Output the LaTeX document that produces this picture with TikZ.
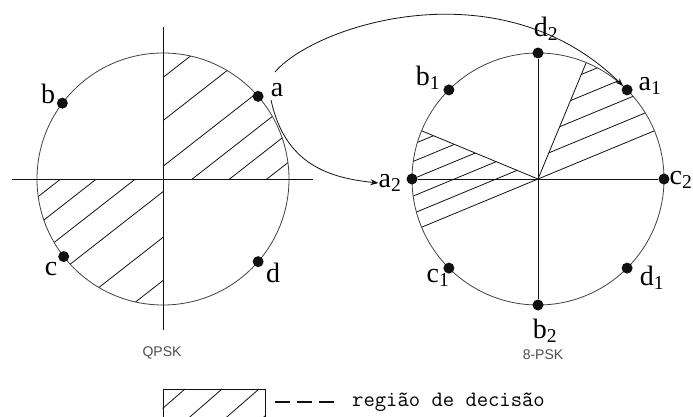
\documentclass[tikz,border=0pt]{standalone}
\usepackage{fontspec}
\usepackage{tikz}
\usetikzlibrary{arrows.meta, positioning, calc}
\newfontfamily\lblfont{Liberation Serif}
\newfontfamily\capfont{Liberation Sans}
\definecolor{ink}{HTML}{111111}

\begin{document}
\begin{tikzpicture}[
  x=1pt, y=1pt,
  rim/.style={draw=ink!80, line width=0.8pt},
  axis/.style={draw=ink, line width=1pt},
  hatch/.style={draw=ink, line width=0.8pt},
  pt/.style={circle, fill=ink, inner sep=0pt, minimum size=11pt},
  lbl/.style={inner sep=0pt, font=\lblfont\fontsize{28}{28}\selectfont},
  title/.style={inner sep=0pt, font=\capfont\fontsize{14}{14}\selectfont, text=ink!75},
  arrow/.style={-{Stealth[length=8pt, width=6pt]}, line width=0.8pt, ink},
  legdash/.style={ink, line width=2pt, dash pattern=on 15pt off 7pt}
]
  \clip (0,0) rectangle (693,416);
  \coordinate (L) at (163,237);
  \coordinate (R) at (538,237);

  % QPSK
  \begin{scope}
    \clip (L) circle (126);
    \clip (L) rectangle ++(130,130);
    \foreach \o in {80,46,10,-18,-41,-64}
      \draw[hatch] ($(L)+(128:\o)+(218:200)$) -- ++(38:400);
  \end{scope}
  \begin{scope}
    \clip (L) circle (126);
    \clip (L) rectangle ++(-130,-130);
    \foreach \o in {63,41,17,-10,-46,-80}
      \draw[hatch] ($(L)+(128:\o)+(218:200)$) -- ++(38:400);
  \end{scope}
  \draw[rim] (L) circle (126);
  \draw[axis] ($(L)+(-151,0)$) -- ($(L)+(150,0)$);
  \draw[axis] ($(L)+(0,152)$) -- ($(L)+(0,-151)$);

  \node[pt] (a) at ($(L)+(41:126)$) {};
  \node[pt] (b) at ($(L)+(143:126)$) {};
  \node[pt] (c) at ($(L)+(218:126)$) {};
  \node[pt] (d) at ($(L)+(-41:126)$) {};
  \node[lbl] (la) at (277,326) {a};
  \node[lbl] (lb) at (48,322) {b};
  \node[lbl] (lc) at (51,147) {c};
  \node[lbl] (ld) at (273,143) {d};
  \node[title] (qpsk) at (162,63) {QPSK};

  % 8-PSK
  \begin{scope}
    \clip (R) -- ($(R)+(22.5:140)$) -- ($(R)+(67.5:140)$) -- cycle;
    \clip (R) circle (126);
    \foreach \o in {20,40,60,80}
      \draw[hatch] ($(R)+(112.5:\o)+(202.5:200)$) -- ++(22.5:400);
  \end{scope}
  \begin{scope}
    \clip (R) -- ($(R)+(157.5:140)$) -- ($(R)+(202.5:140)$) -- cycle;
    \clip (R) circle (126);
    \foreach \o in {16,32,48,64,80}
      \draw[hatch] ($(R)+(112.5:\o)+(202.5:200)$) -- ++(22.5:400);
  \end{scope}
  \foreach \t in {22.5,67.5,157.5,202.5}
    \draw[hatch] (R) -- ($(R)+(\t:126)$);
  \draw[rim] (R) circle (126);

  \node[pt] (c2) at ($(R)+(0:126)$) {};
  \node[pt] (a1) at ($(R)+(45:126)$) {};
  \node[pt] (d2) at ($(R)+(90:126)$) {};
  \node[pt] (b1) at ($(R)+(135:126)$) {};
  \node[pt] (a2) at ($(R)+(180:126)$) {};
  \node[pt] (c1) at ($(R)+(225:126)$) {};
  \node[pt] (b2) at ($(R)+(270:126)$) {};
  \node[pt] (d1) at ($(R)+(315:126)$) {};
  \draw[axis] (a2) -- (c2);
  \draw[axis] (d2) -- (b2);

  \node[lbl] (la1) at (650,330) {a\textsubscript{1}};
  \node[lbl] (lb1) at (428,338) {b\textsubscript{1}};
  \node[lbl] (lc1) at (438,138) {c\textsubscript{1}};
  \node[lbl] (ld1) at (652,138) {d\textsubscript{1}};
  \node[lbl] (la2) at (390,233) {a\textsubscript{2}};
  \node[lbl] (lb2) at (545,85) {b\textsubscript{2}};
  \node[lbl] (lc2) at (681,236) {c\textsubscript{2}};
  \node[lbl] (ld2) at (546,387) {d\textsubscript{2}};
  \node[title] (psk) at (543,61) {8-PSK};

  \coordinate (up0) at (275,344);
  \coordinate (lo0) at (271,316);
  \draw[arrow] (up0) .. controls (315,391) and (500,451) .. (a1);
  \draw[arrow] (lo0) .. controls (285,251) and (330,238) .. (la2.west);

  % legenda
  \node[draw=ink, line width=0.8pt, minimum width=102pt, minimum height=32pt, inner sep=0pt] (legbox) at (214,11) {};
  \begin{scope}
    \clip (legbox.south west) rectangle (legbox.north east);
    \foreach \x in {185,222,259,296}
      \draw[hatch] (\x,27) -- ++(221:80);
  \end{scope}
  \node[anchor=west, inner sep=0pt, font=\ttfamily\fontsize{22}{22}\selectfont] (legtext) at (352,14) {região de decisão};
  \draw[legdash] ($(legbox.east)+(10,3)$) -- ($(legtext.west)+(-17,0)$);
\end{tikzpicture}
\end{document}
